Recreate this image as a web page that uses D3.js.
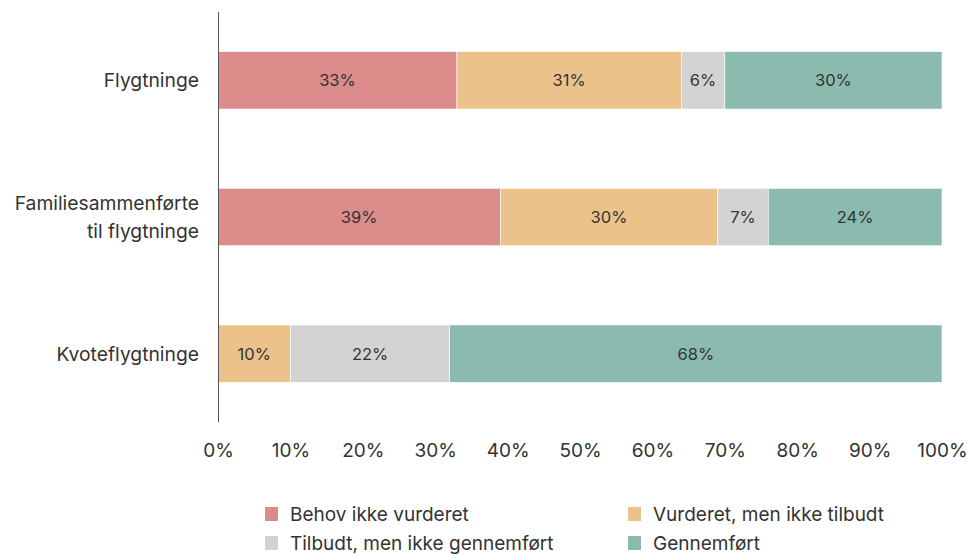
<!DOCTYPE html>
<html><head><meta charset="utf-8">
<script src="https://cdn.jsdelivr.net/npm/d3@7"></script>
<style>body{margin:0;background:#fff}svg{display:block}text{font-family:Inter,"Noto Sans",sans-serif;fill:#333}</style>
</head><body>
<svg id="c" width="968" height="554"></svg>
<script>
const categories = [["Flygtninge"], ["Familiesammenførte", "til flygtninge"], ["Kvoteflygtninge"]];
const categoryKeys = ["Flygtninge", "Familiesammenførte til flygtninge", "Kvoteflygtninge"];
const seriesNames = ["Behov ikke vurderet", "Vurderet, men ikke tilbudt", "Tilbudt, men ikke gennemført", "Gennemført"];
const behov = [33, 39, 0];
const vurderet = [31, 30, 10];
const tilbudt = [6, 7, 22];
const gennemfort = [30, 24, 68];
const xTicks = [0, 10, 20, 30, 40, 50, 60, 70, 80, 90, 100];
const colors = ["#dc8c8a", "#ebc38a", "#d3d3d3", "#8abbae"];

const svg = d3.select("#c");
const x = d3.scaleLinear().domain([0, 100]).range([218, 942]);
const y = d3.scaleBand().domain(categoryKeys).range([12, 422]).paddingInner(0.58).paddingOuter(0.29);
const color = d3.scaleOrdinal().domain(seriesNames).range(colors);

const rows = categoryKeys.map((k, i) => ({key: k, [seriesNames[0]]: behov[i], [seriesNames[1]]: vurderet[i], [seriesNames[2]]: tilbudt[i], [seriesNames[3]]: gennemfort[i]}));
const stacked = d3.stack().keys(seriesNames)(rows);

const g = svg.append("g");
stacked.forEach(s => {
  s.forEach(d => {
    const v = d[1] - d[0];
    if (v <= 0) return;
    g.append("rect").attr("x", x(d[0])).attr("y", y(d.data.key))
      .attr("width", x(d[1]) - x(d[0])).attr("height", y.bandwidth())
      .attr("fill", color(s.key)).attr("stroke", "#fff").attr("stroke-width", 0.6);
    g.append("text").attr("x", (x(d[0]) + x(d[1])) / 2).attr("y", y(d.data.key) + y.bandwidth() / 2)
      .attr("text-anchor", "middle").attr("dominant-baseline", "central")
      .attr("font-size", 16.5).text(v + "%");
  });
});

// y axis line
svg.append("line").attr("x1", 218.5).attr("x2", 218.5).attr("y1", 12).attr("y2", 422)
  .attr("stroke", "#555").attr("stroke-width", 1);

// category labels
categoryKeys.forEach((k, i) => {
  const lines = categories[i];
  const cy = y(k) + y.bandwidth() / 2;
  const lh = 28;
  lines.forEach((ln, j) => {
    svg.append("text").attr("x", 199).attr("y", cy + (j - (lines.length - 1) / 2) * lh)
      .attr("text-anchor", "end").attr("dominant-baseline", "central")
      .attr("font-size", 19.3).text(ln);
  });
});

// x axis ticks
const xa = svg.append("g").attr("transform", "translate(0,443)")
  .call(d3.axisBottom(x).tickValues(xTicks).tickFormat(d => d + "%").tickSize(0).tickPadding(0));
xa.select(".domain").remove();
xa.selectAll("text").attr("font-size", 19).attr("dy", "0.71em").style("font-family", "Inter, 'Noto Sans', sans-serif").attr("fill", "#333");

// legend
const legPos = [[265, 514], [628, 514], [265, 543], [628, 543]];
seriesNames.forEach((n, i) => {
  const [lx, ly] = legPos[i];
  svg.append("rect").attr("x", lx).attr("y", ly - 7).attr("width", 13).attr("height", 14).attr("fill", colors[i]);
  svg.append("text").attr("x", lx + 25).attr("y", ly).attr("dominant-baseline", "central")
    .attr("font-size", 19).text(n);
});
</script>
</body></html>
